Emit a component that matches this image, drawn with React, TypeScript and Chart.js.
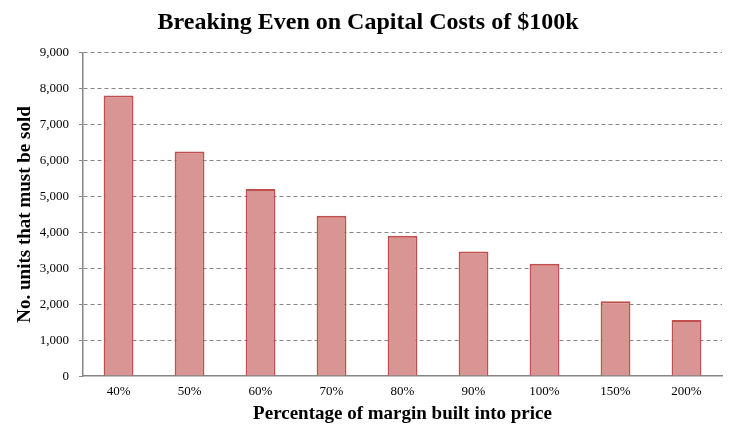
import React, { useEffect, useRef } from "react";
import { Chart, registerables } from "chart.js";

Chart.register(...registerables);

const categories = ["40%", "50%", "60%", "70%", "80%", "90%", "100%", "150%", "200%"];
const unitsSold = [7813, 6250, 5208, 4464, 3906, 3472, 3125, 2083, 1563];
const yTicks = [0, 1000, 2000, 3000, 4000, 5000, 6000, 7000, 8000, 9000];

const SERIF = "'Liberation Serif', 'Times New Roman', serif";

export default function App() {
  const ref = useRef<HTMLCanvasElement | null>(null);
  useEffect(() => {
    if (!ref.current) return;
    const chart = new Chart(ref.current, {
      type: "bar",
      data: {
        labels: categories,
        datasets: [
          {
            data: unitsSold,
            backgroundColor: "#d99594",
            borderColor: "#c0504d",
            borderWidth: 2,
            barPercentage: 0.42,
            categoryPercentage: 1,
          },
        ],
      },
      options: {
        animation: false,
        responsive: false,
        devicePixelRatio: 1,
        layout: { padding: { left: 14, right: 14, top: 4, bottom: 14 } },
        plugins: {
          legend: { display: false },
          tooltip: { enabled: false },
          title: {
            display: true,
            text: "Breaking Even on Capital Costs of $100k",
            color: "#000",
            font: { family: SERIF, size: 24, weight: "bold" },
            padding: { top: 4, bottom: 16 },
          },
        },
        scales: {
          x: {
            grid: { display: false, drawTicks: false },
            border: { display: true, color: "#868686", width: 1.5 },
            ticks: {
              color: "#000",
              font: { family: SERIF, size: 13 },
              padding: 8,
            },
            title: {
              display: true,
              text: "Percentage of margin built into price",
              color: "#000",
              font: { family: SERIF, size: 19, weight: "bold" },
              padding: { top: -5.5, bottom: 0 },
            },
          },
          y: {
            min: 0,
            max: 9000,
            afterBuildTicks: (scale: any) => {
              scale.ticks = yTicks.map((v) => ({ value: v }));
            },
            grid: {
              color: (ctx: any) => (ctx.tick && ctx.tick.value === 0 ? "rgba(0,0,0,0)" : "#868686"),
              lineWidth: 1,
              drawTicks: true,
              tickLength: 4,
              tickColor: "#868686",
              tickBorderDash: [],
            },
            border: { display: true, color: "#868686", width: 1.5, dash: [4, 3] },
            ticks: {
              color: "#000",
              font: { family: SERIF, size: 13 },
              padding: 10,
              callback: (v: any) => Number(v).toLocaleString("en-US"),
            },
            title: {
              display: true,
              text: "No. units that must be sold",
              color: "#000",
              font: { family: SERIF, size: 19, weight: "bold" },
              padding: { top: 0, bottom: -7 },
            },
          },
        },
      },
    });
    return () => chart.destroy();
  }, []);
  return (
    <div style={{ position: "fixed", left: 0, top: 0, width: 736, height: 439, background: "#fff" }}>
      <canvas ref={ref} width={736} height={439} />
    </div>
  );
}
